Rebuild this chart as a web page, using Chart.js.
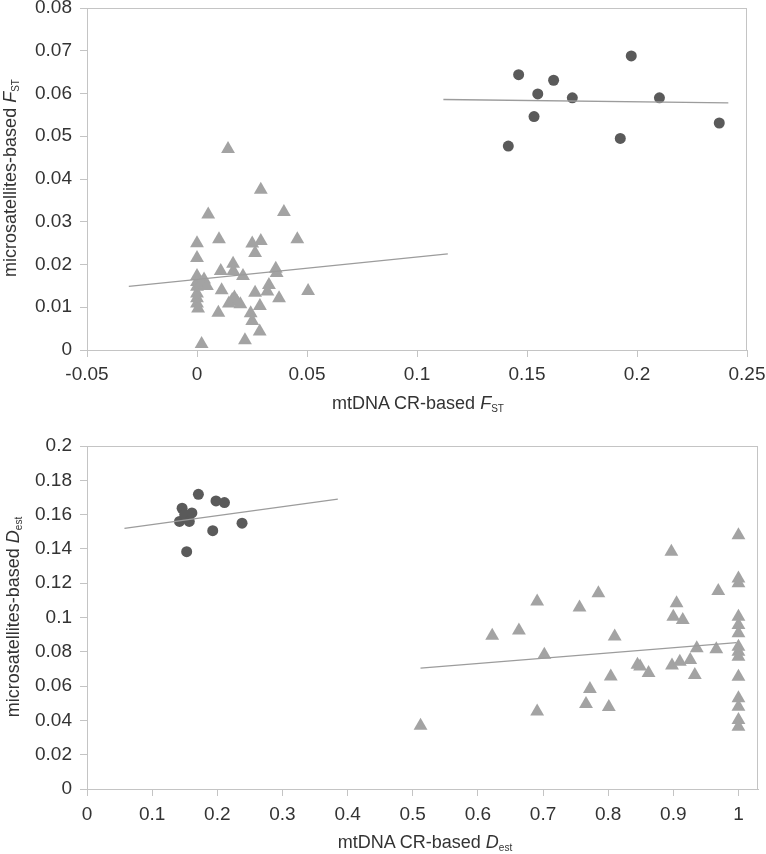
<!DOCTYPE html>
<html>
<head>
<meta charset="utf-8">
<script src="https://cdn.jsdelivr.net/npm/chart.js@4/dist/chart.umd.min.js"></script>
<style>
  body { margin: 0; background: #fff; }
  #contenedor { position: relative; width: 766px; height: 854px; font-family: "Liberation Sans", Arial, sans-serif; color: #333; }
  canvas { position: absolute; left: 0; }
  .titulo { position: absolute; font-size: 18px; white-space: nowrap; line-height: 1; }
  .titulo sub { font-size: 10px; vertical-align: -3px; }
  .rotado { transform: translate(-50%, -50%) rotate(-90deg); }
  .centrado { transform: translate(-50%, -50%); }
</style>
</head>
<body>
<div id="contenedor">
  <canvas id="grafico_fst" width="766" height="420" style="top:0"></canvas>
  <canvas id="grafico_dest" width="766" height="434" style="top:420px"></canvas>
  <div class="titulo rotado" style="left:11px;top:178px">microsatellites-based <i>F</i><sub>ST</sub></div>
  <div class="titulo centrado" style="left:418px;top:404px">mtDNA CR-based <i>F</i><sub>ST</sub></div>
  <div class="titulo rotado" style="left:14px;top:617px">microsatellites-based <i>D</i><sub>est</sub></div>
  <div class="titulo centrado" style="left:425px;top:843px">mtDNA CR-based <i>D</i><sub>est</sub></div>
</div>
<script>
// ---- datos grafico superior (F_ST) ----
const fst_triangulos_x = [0.0141, 0.0290, 0.0051, 0.0395, 0.0000, 0.0100, 0.0251, 0.0290, 0.0456, 0.0264,
  0.0000, 0.0164, 0.0108, 0.0165, 0.0209, 0.0358, 0.0362, 0.0000, 0.0032, 0.0000,
  0.0000, 0.0000, 0.0000, 0.0000, 0.0005, 0.0020, 0.0112, 0.0327, 0.0320, 0.0264,
  0.0373, 0.0505, 0.0160, 0.0182, 0.0145, 0.0197, 0.0286, 0.0097, 0.0244, 0.0251,
  0.0285, 0.0218, 0.0021, 0.0045, 0.0170];
const fst_triangulos_y = [0.0470, 0.0375, 0.0317, 0.0323, 0.0250, 0.0259, 0.0249, 0.0255, 0.0259, 0.0227,
  0.0215, 0.0202, 0.0185, 0.0185, 0.0173, 0.0190, 0.0180, 0.0173, 0.0165, 0.0159,
  0.0148, 0.0132, 0.0121, 0.0109, 0.0097, 0.0156, 0.0140, 0.0152, 0.0137, 0.0134,
  0.0121, 0.0138, 0.0117, 0.0113, 0.0109, 0.0107, 0.0103, 0.0087, 0.0086, 0.0068,
  0.0043, 0.0023, 0.0014, 0.0150, 0.0123];
const fst_circulos_x = [0.1415, 0.1462, 0.1532, 0.1549, 0.1621, 0.1706, 0.1924, 0.1974, 0.2102, 0.2374];
const fst_circulos_y = [0.0477, 0.0644, 0.0546, 0.0599, 0.0631, 0.0590, 0.0495, 0.0688, 0.0590, 0.0531];
const fst_tendencia_triangulos_x = [-0.031, 0.114];
const fst_tendencia_triangulos_y = [0.0149, 0.0225];
const fst_tendencia_circulos_x = [0.112, 0.2415];
const fst_tendencia_circulos_y = [0.0586, 0.0578];
const fst_ticks_x = [-0.05, 0, 0.05, 0.1, 0.15, 0.2, 0.25];
const fst_ticks_y = [0, 0.01, 0.02, 0.03, 0.04, 0.05, 0.06, 0.07, 0.08];

// ---- datos grafico inferior (D_est) ----
const dest_triangulos_x = [0.512, 0.622, 0.663, 0.691, 0.702, 0.691, 0.756, 0.785, 0.810, 0.772,
  0.766, 0.804, 0.801, 0.845, 0.849, 0.862, 0.897, 0.905, 0.900, 0.9145,
  0.898, 0.910, 0.926, 0.936, 0.933, 0.969, 0.966,
  1, 1, 1, 1, 1, 1, 1, 1, 1, 1, 1, 1, 1, 1];
const dest_triangulos_y = [0.0369, 0.0893, 0.0924, 0.1093, 0.0783, 0.0452, 0.1058, 0.1142, 0.0889, 0.0583,
  0.0495, 0.0656, 0.0478, 0.0724, 0.0715, 0.0676, 0.1384, 0.1083, 0.1005, 0.0985,
  0.0720, 0.0742, 0.0752, 0.0820, 0.0665, 0.1155, 0.0815,
  0.148, 0.1228, 0.120, 0.1005, 0.0956, 0.0908, 0.083, 0.080, 0.0771, 0.0655, 0.0529, 0.048, 0.0402, 0.0363];
const dest_circulos_x = [0.142, 0.146, 0.150, 0.153, 0.157, 0.161, 0.171, 0.193, 0.198, 0.211, 0.238];
const dest_circulos_y = [0.156, 0.1637, 0.160, 0.1384, 0.156, 0.161, 0.1718, 0.1506, 0.168, 0.167, 0.155];
const dest_tendencia_triangulos_x = [0.512, 0.997];
const dest_tendencia_triangulos_y = [0.0705, 0.0854];
const dest_tendencia_circulos_x = [0.0575, 0.385];
const dest_tendencia_circulos_y = [0.152, 0.169];
const dest_ticks_x = [0, 0.1, 0.2, 0.3, 0.4, 0.5, 0.6, 0.7, 0.8, 0.9, 1];
const dest_ticks_y = [0, 0.02, 0.04, 0.06, 0.08, 0.1, 0.12, 0.14, 0.16, 0.18, 0.2];

const color_borde = "#c4c4c4";
const fuente_ticks = { family: "'Liberation Sans', Arial, sans-serif", size: 19 };

function unir_puntos(xs, ys) {
  return xs.map((x, i) => ({ x: x, y: ys[i] }));
}

function formato_numero(v) {
  return String(+v.toFixed(3));
}

// marco gris alrededor del area del grafico
const marco = {
  id: "marco",
  beforeDatasetsDraw(chart) {
    const a = chart.chartArea;
    const ctx = chart.ctx;
    ctx.save();
    ctx.strokeStyle = color_borde;
    ctx.lineWidth = 1;
    ctx.strokeRect(a.left + 0.5, a.top + 0.5, a.right - a.left - 1, a.bottom - a.top);
    ctx.restore();
  },
};

function escala(min, max, ticks_valores, eje, tam, padding_label) {
  return {
    type: "linear",
    min: min,
    max: max,
    afterBuildTicks: (s) => {
      s.ticks = ticks_valores.map((v) => ({ value: v }));
    },
    afterFit: (s) => {
      if (eje === "x") {
        s.height = tam;
        s.paddingLeft = 0;
        s.paddingRight = 0;
      } else {
        s.width = tam;
        s.paddingTop = 0;
        s.paddingBottom = 0;
      }
    },
    grid: { drawOnChartArea: false, tickLength: 7, color: color_borde },
    border: { color: color_borde },
    ticks: {
      padding: padding_label,
      color: "#333",
      font: fuente_ticks,
      maxRotation: 0,
      autoSkip: false,
      callback: (v) => formato_numero(v),
    },
  };
}

function linea(xs, ys) {
  return {
    type: "line",
    data: unir_puntos(xs, ys),
    borderColor: "#9c9c9c",
    borderWidth: 1.3,
    pointRadius: 0,
    fill: false,
  };
}

function pintar_grafico(id, datos, esc_x, esc_y, padding) {
  new Chart(document.getElementById(id), {
    type: "scatter",
    data: { datasets: datos },
    options: {
      responsive: false,
      animation: false,
      layout: { padding: padding },
      plugins: { legend: { display: false }, tooltip: { enabled: false } },
      scales: { x: esc_x, y: esc_y },
    },
    plugins: [marco],
  });
}

function triangulos(xs, ys) {
  return {
    data: unir_puntos(xs, ys),
    pointStyle: "triangle",
    pointRadius: 8,
    backgroundColor: "#a3a3a3",
    borderColor: "#a3a3a3",
    borderWidth: 0,
  };
}

function circulos(xs, ys) {
  return {
    data: unir_puntos(xs, ys),
    pointStyle: "circle",
    pointRadius: 5.5,
    backgroundColor: "#5a5a5a",
    borderColor: "#5a5a5a",
    borderWidth: 0,
  };
}

pintar_grafico(
  "grafico_fst",
  [
    linea(fst_tendencia_circulos_x, fst_tendencia_circulos_y),
    linea(fst_tendencia_triangulos_x, fst_tendencia_triangulos_y),
    circulos(fst_circulos_x, fst_circulos_y),
    triangulos(fst_triangulos_x, fst_triangulos_y),
  ],
  escala(-0.05, 0.25, fst_ticks_x, "x", 70, 6),
  escala(0, 0.08, fst_ticks_y, "y", 87, 8),
  { top: 7, right: 19, bottom: 0, left: 0 }
);

pintar_grafico(
  "grafico_dest",
  [
    linea(dest_tendencia_circulos_x, dest_tendencia_circulos_y),
    linea(dest_tendencia_triangulos_x, dest_tendencia_triangulos_y),
    circulos(dest_circulos_x, dest_circulos_y),
    triangulos(dest_triangulos_x, dest_triangulos_y),
  ],
  escala(0, 1.03, dest_ticks_x, "x", 65, 7),
  escala(0, 0.2, dest_ticks_y, "y", 87, 8),
  { top: 26, right: 2, bottom: 0, left: 0 }
);
</script>
</body>
</html>
